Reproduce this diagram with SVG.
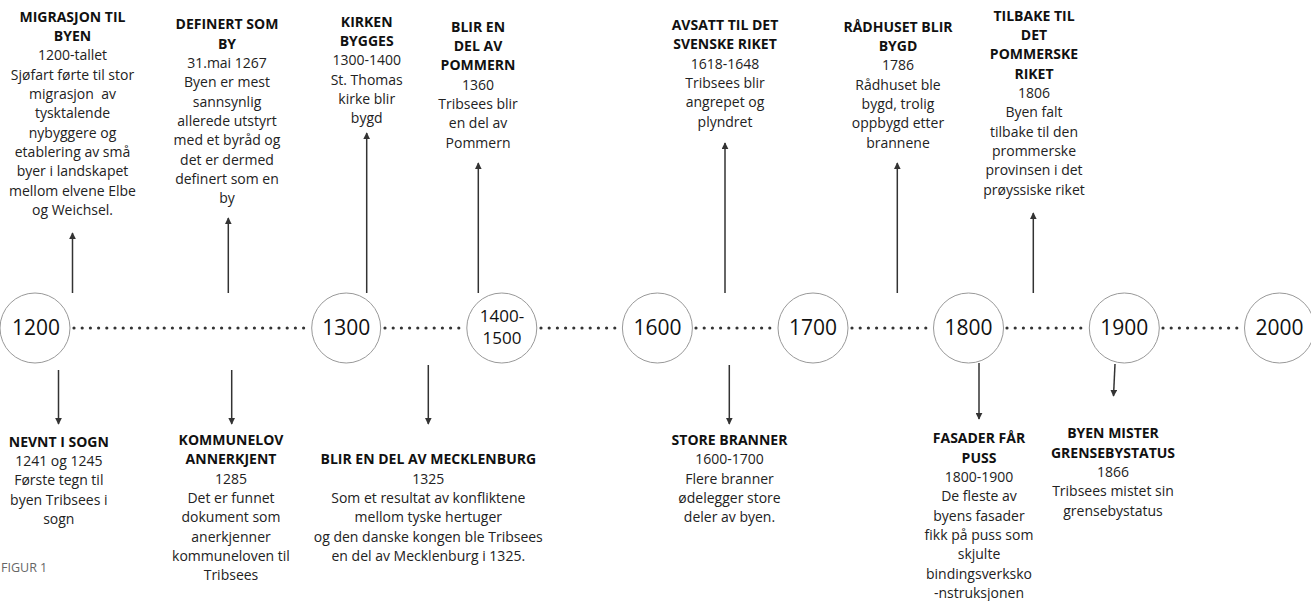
<svg xmlns="http://www.w3.org/2000/svg" width="1311" height="601" viewBox="0 0 1311 601">
<defs>
<marker id="ah" viewBox="0 0 10 10" refX="9" refY="5" markerWidth="7" markerHeight="7" markerUnits="userSpaceOnUse" orient="auto">
<path d="M0,0 L10,5 L0,10 z" fill="#333"/>
</marker>
<style>
.t{font-family:"Open Sans","Liberation Sans",sans-serif;font-size:14px;fill:#222;text-anchor:middle}
.b{font-weight:bold;fill:#111}
.yr{font-family:"Open Sans","Liberation Sans",sans-serif;font-size:21px;fill:#111;text-anchor:middle}
.ys{font-size:17px}
.c{fill:#fff;stroke:#999;stroke-width:1}
.arr{stroke:#333;stroke-width:1.5;fill:none;marker-end:url(#ah)}
.dot{stroke:#333;stroke-width:3.2;stroke-linecap:round;stroke-dasharray:0 8.2;fill:none}
.fig{font-family:"Open Sans","Liberation Sans",sans-serif;font-size:12.5px;fill:#666}
</style>
</defs>
<rect width="1311" height="601" fill="#fff"/>
<g id="connectors">
<line class="dot" x1="74" y1="328" x2="308" y2="328"/>
<line class="dot" x1="385" y1="328" x2="464" y2="328"/>
<line class="dot" x1="541" y1="328" x2="619" y2="328"/>
<line class="dot" x1="696" y1="328" x2="775" y2="328"/>
<line class="dot" x1="852" y1="328" x2="930" y2="328"/>
<line class="dot" x1="1007" y1="328" x2="1086" y2="328"/>
<line class="dot" x1="1163" y1="328" x2="1242" y2="328"/>
<line class="arr" x1="72.5" y1="293" x2="72.5" y2="233"/>
<line class="arr" x1="228.3" y1="293" x2="228.3" y2="218"/>
<line class="arr" x1="366.7" y1="293" x2="366.7" y2="133"/>
<line class="arr" x1="478.3" y1="293" x2="478.3" y2="163"/>
<line class="arr" x1="725" y1="293" x2="725" y2="143"/>
<line class="arr" x1="897.3" y1="293" x2="897.3" y2="163"/>
<line class="arr" x1="1033.3" y1="293" x2="1033.3" y2="213"/>
<line class="arr" x1="58.5" y1="370" x2="58.5" y2="424"/>
<line class="arr" x1="231.7" y1="370" x2="231.7" y2="424"/>
<line class="arr" x1="428.3" y1="365" x2="428.3" y2="424"/>
<line class="arr" x1="729.3" y1="365" x2="729.3" y2="424"/>
<line class="arr" x1="979" y1="363" x2="979" y2="419"/>
<line class="arr" x1="1115" y1="364" x2="1113.5" y2="396"/>
</g>
<g id="y1200"><ellipse class="c" cx="35" cy="328" rx="35" ry="35"/><text class="yr" x="36" y="335">1200</text></g>
<g id="y1300"><ellipse class="c" cx="346.2" cy="328" rx="34.5" ry="35"/><text class="yr" x="346.2" y="335">1300</text></g>
<g id="y1400"><ellipse class="c" cx="501.8" cy="328" rx="35" ry="35"/><text class="yr ys" x="502" y="321.7">1400-</text><text class="yr ys" x="502" y="344">1500</text></g>
<g id="y1600"><ellipse class="c" cx="657.4" cy="328" rx="35" ry="35"/><text class="yr" x="657.4" y="335">1600</text></g>
<g id="y1700"><ellipse class="c" cx="813" cy="328" rx="35" ry="35"/><text class="yr" x="813" y="335">1700</text></g>
<g id="y1800"><ellipse class="c" cx="968.5" cy="328" rx="35" ry="35"/><text class="yr" x="968.5" y="335">1800</text></g>
<g id="y1900"><ellipse class="c" cx="1124.3" cy="328" rx="35" ry="35"/><text class="yr" x="1124.3" y="335">1900</text></g>
<g id="y2000"><ellipse class="c" cx="1279.5" cy="328" rx="35" ry="35"/><text class="yr" x="1279.5" y="335">2000</text></g>
<g id="e-migrasjon"><text class="t" xml:space="preserve"><tspan class="b" x="72.5" y="21.7">MIGRASJON TIL</tspan><tspan class="b" x="72.5" dy="19.33">BYEN</tspan><tspan x="72.5" dy="19.33">1200-tallet</tspan><tspan x="72.5" dy="19.33">Sjøfart førte til stor</tspan><tspan x="72.5" dy="19.33">migrasjon  av</tspan><tspan x="72.5" dy="19.33">tysktalende</tspan><tspan x="72.5" dy="19.33">nybyggere og</tspan><tspan x="72.5" dy="19.33">etablering av små</tspan><tspan x="72.5" dy="19.33">byer i landskapet</tspan><tspan x="72.5" dy="19.33">mellom elvene Elbe</tspan><tspan x="72.5" dy="19.33">og Weichsel.</tspan></text></g>
<g id="e-definert"><text class="t"><tspan class="b" x="227" y="29.3">DEFINERT SOM</tspan><tspan class="b" x="227" dy="19.33">BY</tspan><tspan x="227" dy="19.33">31.mai 1267</tspan><tspan x="227" dy="19.33">Byen er mest</tspan><tspan x="227" dy="19.33">sannsynlig</tspan><tspan x="227" dy="19.33">allerede utstyrt</tspan><tspan x="227" dy="19.33">med et byråd og</tspan><tspan x="227" dy="19.33">det er dermed</tspan><tspan x="227" dy="19.33">definert som en</tspan><tspan x="227" dy="19.33">by</tspan></text></g>
<g id="e-kirken"><text class="t"><tspan class="b" x="366.7" y="26.7">KIRKEN</tspan><tspan class="b" x="366.7" dy="19.33">BYGGES</tspan><tspan x="366.7" dy="19.33">1300-1400</tspan><tspan x="366.7" dy="19.33">St. Thomas</tspan><tspan x="366.7" dy="19.33">kirke blir</tspan><tspan x="366.7" dy="19.33">bygd</tspan></text></g>
<g id="e-pommern"><text class="t"><tspan class="b" x="478" y="31.7">BLIR EN</tspan><tspan class="b" x="478" dy="19.33">DEL AV</tspan><tspan class="b" x="478" dy="19.33">POMMERN</tspan><tspan x="478" dy="19.33">1360</tspan><tspan x="478" dy="19.33">Tribsees blir</tspan><tspan x="478" dy="19.33">en del av</tspan><tspan x="478" dy="19.33">Pommern</tspan></text></g>
<g id="e-svenske"><text class="t"><tspan class="b" x="725" y="30">AVSATT TIL DET</tspan><tspan class="b" x="725" dy="19.33">SVENSKE RIKET</tspan><tspan x="725" dy="19.33">1618-1648</tspan><tspan x="725" dy="19.33">Tribsees blir</tspan><tspan x="725" dy="19.33">angrepet og</tspan><tspan x="725" dy="19.33">plyndret</tspan></text></g>
<g id="e-radhuset"><text class="t"><tspan class="b" x="898" y="31.7">RÅDHUSET BLIR</tspan><tspan class="b" x="898" dy="19.33">BYGD</tspan><tspan x="898" dy="19.33">1786</tspan><tspan x="898" dy="19.33">Rådhuset ble</tspan><tspan x="898" dy="19.33">bygd, trolig</tspan><tspan x="898" dy="19.33">oppbygd etter</tspan><tspan x="898" dy="19.33">brannene</tspan></text></g>
<g id="e-tilbake"><text class="t"><tspan class="b" x="1034" y="20.7">TILBAKE TIL</tspan><tspan class="b" x="1034" dy="19.33">DET</tspan><tspan class="b" x="1034" dy="19.33">POMMERSKE</tspan><tspan class="b" x="1034" dy="19.33">RIKET</tspan><tspan x="1034" dy="19.33">1806</tspan><tspan x="1034" dy="19.33">Byen falt</tspan><tspan x="1034" dy="19.33">tilbake til den</tspan><tspan x="1034" dy="19.33">prommerske</tspan><tspan x="1034" dy="19.33">provinsen i det</tspan><tspan x="1034" dy="19.33">prøyssiske riket</tspan></text></g>
<g id="e-nevnt"><text class="t"><tspan class="b" x="58.8" y="446.7">NEVNT I SOGN</tspan><tspan x="58.8" dy="19.33">1241 og 1245</tspan><tspan x="58.8" dy="19.33">Første tegn til</tspan><tspan x="58.8" dy="19.33">byen Tribsees i</tspan><tspan x="58.8" dy="19.33">sogn</tspan></text></g>
<g id="e-kommunelov"><text class="t"><tspan class="b" x="231" y="445">KOMMUNELOV</tspan><tspan class="b" x="231" dy="19.33">ANNERKJENT</tspan><tspan x="231" dy="19.33">1285</tspan><tspan x="231" dy="19.33">Det er funnet</tspan><tspan x="231" dy="19.33">dokument som</tspan><tspan x="231" dy="19.33">anerkjenner</tspan><tspan x="231" dy="19.33">kommuneloven til</tspan><tspan x="231" dy="19.33">Tribsees</tspan></text></g>
<g id="e-mecklenburg"><text class="t"><tspan class="b" x="428.3" y="464.3">BLIR EN DEL AV MECKLENBURG</tspan><tspan x="428.3" dy="19.33">1325</tspan><tspan x="428.3" dy="19.33">Som et resultat av konfliktene</tspan><tspan x="428.3" dy="19.33">mellom tyske hertuger</tspan><tspan x="428.3" dy="19.33">og den danske kongen ble Tribsees</tspan><tspan x="428.3" dy="19.33">en del av Mecklenburg i 1325.</tspan></text></g>
<g id="e-branner"><text class="t"><tspan class="b" x="729.5" y="445">STORE BRANNER</tspan><tspan x="729.5" dy="19.33">1600-1700</tspan><tspan x="729.5" dy="19.33">Flere branner</tspan><tspan x="729.5" dy="19.33">ødelegger store</tspan><tspan x="729.5" dy="19.33">deler av byen.</tspan></text></g>
<g id="e-fasader"><text class="t"><tspan class="b" x="979" y="443.3">FASADER FÅR</tspan><tspan class="b" x="979" dy="19.33">PUSS</tspan><tspan x="979" dy="19.33">1800-1900</tspan><tspan x="979" dy="19.33">De fleste av</tspan><tspan x="979" dy="19.33">byens fasader</tspan><tspan x="979" dy="19.33">fikk på puss som</tspan><tspan x="979" dy="19.33">skjulte</tspan><tspan x="979" dy="19.33">bindingsverksko</tspan><tspan x="979" dy="19.33">-nstruksjonen</tspan></text></g>
<g id="e-grense"><text class="t"><tspan class="b" x="1113" y="438.3">BYEN MISTER</tspan><tspan class="b" x="1113" dy="19.33">GRENSEBYSTATUS</tspan><tspan x="1113" dy="19.33">1866</tspan><tspan x="1113" dy="19.33">Tribsees mistet sin</tspan><tspan x="1113" dy="19.33">grensebystatus</tspan></text></g>
<text class="fig" x="1" y="571.5">FIGUR 1</text>
</svg>
